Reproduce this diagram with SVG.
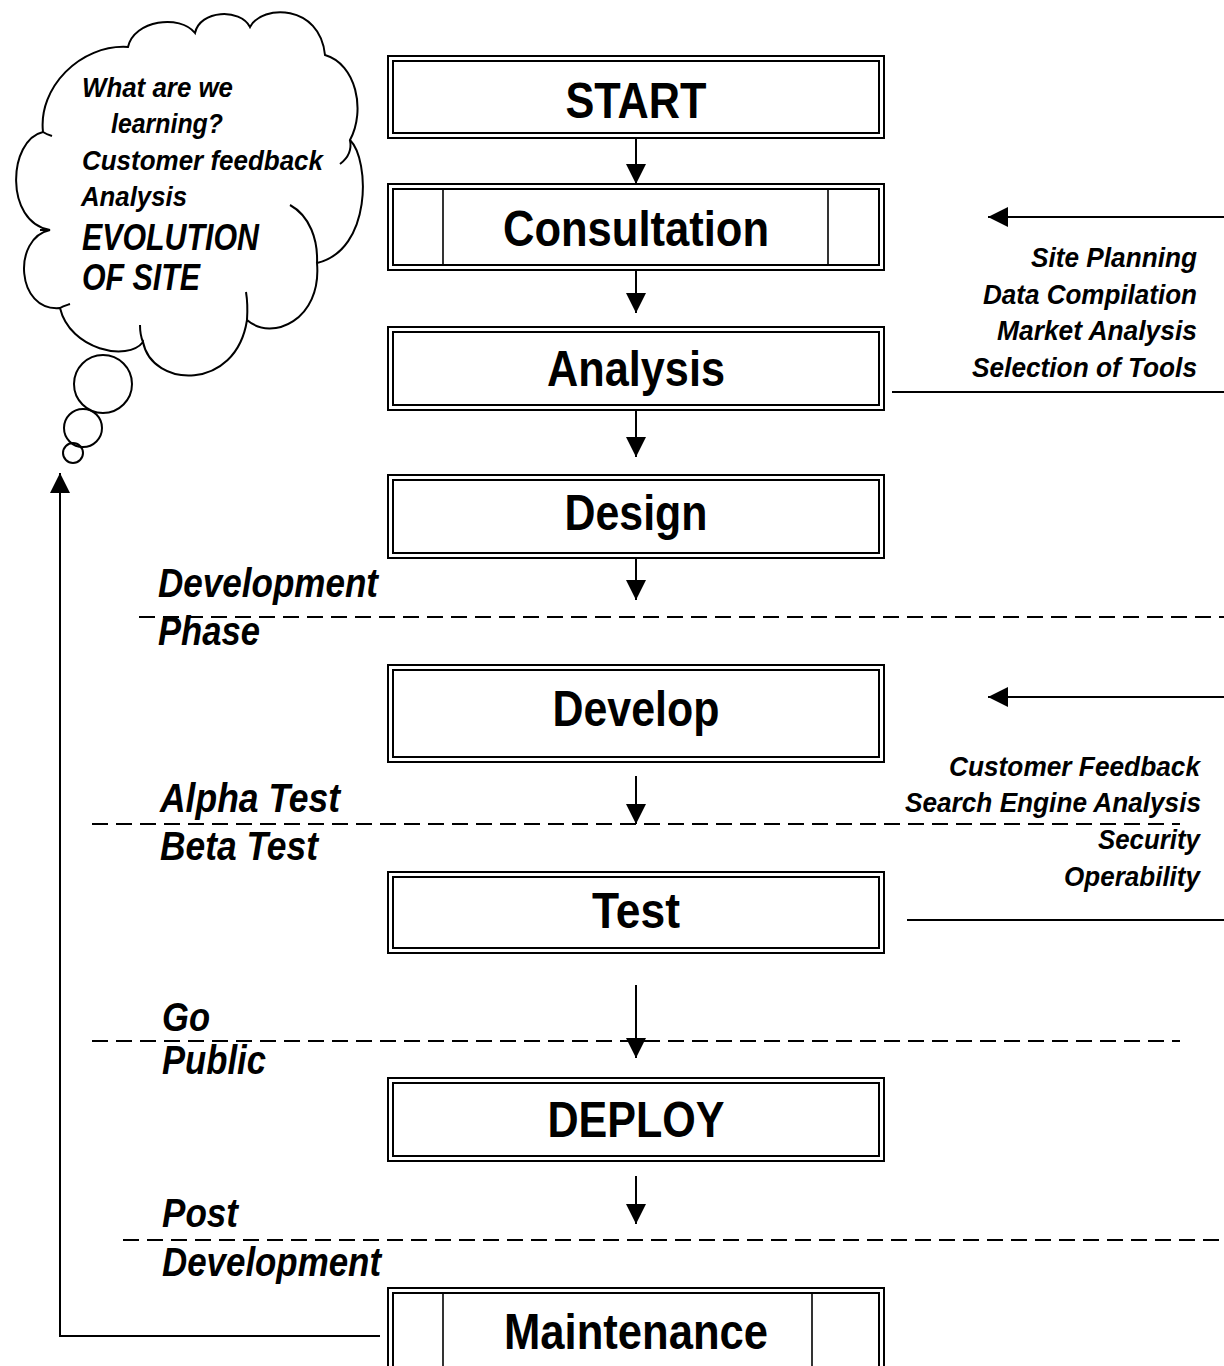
<svg xmlns="http://www.w3.org/2000/svg" width="1224" height="1366" viewBox="0 0 1224 1366">
  <defs>
    <style>
      .box-outer, .box-inner { fill: none; stroke: #000; stroke-width: 2; }
      .divider { stroke: #000; stroke-width: 1.6; }
      .conn { fill: none; stroke: #000; stroke-width: 2; }
      .phase { fill: none; stroke: #000; stroke-width: 2; stroke-dasharray: 16 8; }
      .cloud { fill: none; stroke: #000; stroke-width: 2; }
      .title { font-family: "Liberation Sans Narrow", "Liberation Sans", Arial, sans-serif; font-weight: bold; font-size: 50px; fill: #000; text-anchor: middle; }
      .label { font-family: "Liberation Sans Narrow", "Liberation Sans", Arial, sans-serif; font-weight: bold; font-style: italic; font-size: 40px; fill: #000; }
      .note { font-family: "Liberation Sans Narrow", "Liberation Sans", Arial, sans-serif; font-weight: bold; font-style: italic; font-size: 28px; fill: #000; text-anchor: end; }
      .think { font-family: "Liberation Sans Narrow", "Liberation Sans", Arial, sans-serif; font-weight: bold; font-style: italic; font-size: 28px; fill: #000; }
      .think-big { font-size: 36px; }
    </style>
    <marker id="head" viewBox="0 0 20 20" refX="20" refY="10" markerWidth="20" markerHeight="20" markerUnits="userSpaceOnUse" orient="auto">
      <path d="M0,0 L20,10 L0,20 Z" fill="#000"/>
    </marker>
  </defs>

  <!-- thought cloud -->
  <g id="cloud">
    <path class="cloud" d="M43,132 C8,140 4,222 50,230 C12,238 16,312 60,308 C70,350 128,362 143,342 C152,388 236,392 247,320 C272,342 322,320 317,263 C372,250 370,160 350,140 C366,110 356,64 325,55 C320,4 262,4 250,27 C240,8 200,10 195,33 C180,14 134,20 128,47 C80,44 38,88 43,132 Z"/>
    <path class="cloud" d="M290,205 C310,216 318,240 317,263"/>
    <path class="cloud" d="M350,140 C352,150 348,158 340,164"/>
    <path class="cloud" d="M247,320 C248,305 247,298 246,292"/>
    <path class="cloud" d="M143,342 C140,335 140,330 140,325"/>
    <path class="cloud" d="M60,308 C63,306 67,305 70,304"/>
    <path class="cloud" d="M50,230 C45,230 42,230 40,230"/>
    <path class="cloud" d="M43,132 C46,134 49,135 52,136"/>
    <circle class="cloud" cx="103" cy="384" r="29"/>
    <circle class="cloud" cx="83" cy="428" r="19"/>
    <circle class="cloud" cx="73" cy="453" r="10"/>
    <text class="think" x="82" y="97" textLength="151" lengthAdjust="spacingAndGlyphs">What are we</text>
    <text class="think" x="111" y="133" textLength="112" lengthAdjust="spacingAndGlyphs">learning?</text>
    <text class="think" x="82" y="170" textLength="241" lengthAdjust="spacingAndGlyphs">Customer feedback</text>
    <text class="think" x="81" y="206" textLength="106" lengthAdjust="spacingAndGlyphs">Analysis</text>
    <text class="think think-big" x="82" y="250" textLength="177" lengthAdjust="spacingAndGlyphs">EVOLUTION</text>
    <text class="think think-big" x="82" y="290" textLength="118" lengthAdjust="spacingAndGlyphs">OF SITE</text>
  </g>

  <!-- process steps -->
  <g id="start">
    <rect class="box-outer" x="388" y="56" width="496" height="82"/>
    <rect class="box-inner" x="393" y="61" width="486" height="72"/>
    <text class="title" x="636" y="118" textLength="141" lengthAdjust="spacingAndGlyphs">START</text>
  </g>
  <g id="consultation">
    <rect class="box-outer" x="388" y="184" width="496" height="86"/>
    <rect class="box-inner" x="393" y="189" width="486" height="76"/>
    <line class="divider" x1="443" y1="189" x2="443" y2="265"/>
    <line class="divider" x1="828" y1="189" x2="828" y2="265"/>
    <text class="title" x="636" y="246" textLength="266" lengthAdjust="spacingAndGlyphs">Consultation</text>
  </g>
  <g id="analysis">
    <rect class="box-outer" x="388" y="327" width="496" height="83"/>
    <rect class="box-inner" x="393" y="332" width="486" height="73"/>
    <text class="title" x="636" y="386" textLength="178" lengthAdjust="spacingAndGlyphs">Analysis</text>
  </g>
  <g id="design">
    <rect class="box-outer" x="388" y="475" width="496" height="83"/>
    <rect class="box-inner" x="393" y="480" width="486" height="73"/>
    <text class="title" x="636" y="530" textLength="143" lengthAdjust="spacingAndGlyphs">Design</text>
  </g>
  <g id="develop">
    <rect class="box-outer" x="388" y="665" width="496" height="97"/>
    <rect class="box-inner" x="393" y="670" width="486" height="87"/>
    <text class="title" x="636" y="726" textLength="167" lengthAdjust="spacingAndGlyphs">Develop</text>
  </g>
  <g id="test">
    <rect class="box-outer" x="388" y="872" width="496" height="81"/>
    <rect class="box-inner" x="393" y="877" width="486" height="71"/>
    <text class="title" x="636" y="928" textLength="88" lengthAdjust="spacingAndGlyphs">Test</text>
  </g>
  <g id="deploy">
    <rect class="box-outer" x="388" y="1078" width="496" height="83"/>
    <rect class="box-inner" x="393" y="1083" width="486" height="73"/>
    <text class="title" x="636" y="1137" textLength="177" lengthAdjust="spacingAndGlyphs">DEPLOY</text>
  </g>
  <g id="maintenance">
    <rect class="box-outer" x="388" y="1288" width="496" height="84"/>
    <rect class="box-inner" x="393" y="1293" width="486" height="74"/>
    <line class="divider" x1="443" y1="1293" x2="443" y2="1366"/>
    <line class="divider" x1="812" y1="1293" x2="812" y2="1366"/>
    <text class="title" x="636" y="1349" textLength="264" lengthAdjust="spacingAndGlyphs">Maintenance</text>
  </g>

  <!-- phase labels -->
  <g id="phase-labels">
    <text class="label" x="158" y="597" textLength="220" lengthAdjust="spacingAndGlyphs">Development</text>
    <text class="label" x="158" y="645" textLength="102" lengthAdjust="spacingAndGlyphs">Phase</text>
    <text class="label" x="160" y="812" textLength="180" lengthAdjust="spacingAndGlyphs">Alpha Test</text>
    <text class="label" x="160" y="860" textLength="158" lengthAdjust="spacingAndGlyphs">Beta Test</text>
    <text class="label" x="162" y="1031" textLength="48" lengthAdjust="spacingAndGlyphs">Go</text>
    <text class="label" x="162" y="1074" textLength="104" lengthAdjust="spacingAndGlyphs">Public</text>
    <text class="label" x="162" y="1227" textLength="76" lengthAdjust="spacingAndGlyphs">Post</text>
    <text class="label" x="162" y="1276" textLength="219" lengthAdjust="spacingAndGlyphs">Development</text>
  </g>

  <!-- side notes -->
  <g id="planning-notes">
    <text class="note" x="1197" y="267" textLength="166" lengthAdjust="spacingAndGlyphs">Site Planning</text>
    <text class="note" x="1197" y="304" textLength="214" lengthAdjust="spacingAndGlyphs">Data Compilation</text>
    <text class="note" x="1197" y="340" textLength="200" lengthAdjust="spacingAndGlyphs">Market Analysis</text>
    <text class="note" x="1197" y="377" textLength="225" lengthAdjust="spacingAndGlyphs">Selection of Tools</text>
  </g>
  <g id="testing-notes">
    <text class="note" x="1200" y="776" textLength="251" lengthAdjust="spacingAndGlyphs">Customer Feedback</text>
    <text class="note" x="1201" y="812" textLength="296" lengthAdjust="spacingAndGlyphs">Search Engine Analysis</text>
    <text class="note" x="1200" y="849" textLength="102" lengthAdjust="spacingAndGlyphs">Security</text>
    <text class="note" x="1200" y="886" textLength="136" lengthAdjust="spacingAndGlyphs">Operability</text>
  </g>

  <!-- connectors and phase separators -->
  <g id="connectors">
    <line class="conn" x1="636" y1="138" x2="636" y2="184" marker-end="url(#head)"/>
    <line class="conn" x1="636" y1="270" x2="636" y2="313" marker-end="url(#head)"/>
    <line class="conn" x1="636" y1="410" x2="636" y2="457" marker-end="url(#head)"/>
    <line class="conn" x1="636" y1="558" x2="636" y2="600" marker-end="url(#head)"/>
    <line class="conn" x1="636" y1="776" x2="636" y2="824" marker-end="url(#head)"/>
    <line class="conn" x1="636" y1="985" x2="636" y2="1058" marker-end="url(#head)"/>
    <line class="conn" x1="636" y1="1176" x2="636" y2="1224" marker-end="url(#head)"/>

    <line class="conn" x1="1224" y1="217" x2="988" y2="217" marker-end="url(#head)"/>
    <line class="conn" x1="892" y1="392" x2="1224" y2="392"/>
    <line class="conn" x1="1224" y1="697" x2="988" y2="697" marker-end="url(#head)"/>
    <line class="conn" x1="907" y1="920" x2="1224" y2="920"/>

    <polyline class="conn" points="380,1336 60,1336 60,473" marker-end="url(#head)"/>

    <line class="phase" x1="139" y1="617" x2="1224" y2="617"/>
    <line class="phase" x1="92" y1="824" x2="1180" y2="824"/>
    <line class="phase" x1="92" y1="1041" x2="1180" y2="1041"/>
    <line class="phase" x1="123" y1="1240" x2="1224" y2="1240"/>
  </g>
</svg>
